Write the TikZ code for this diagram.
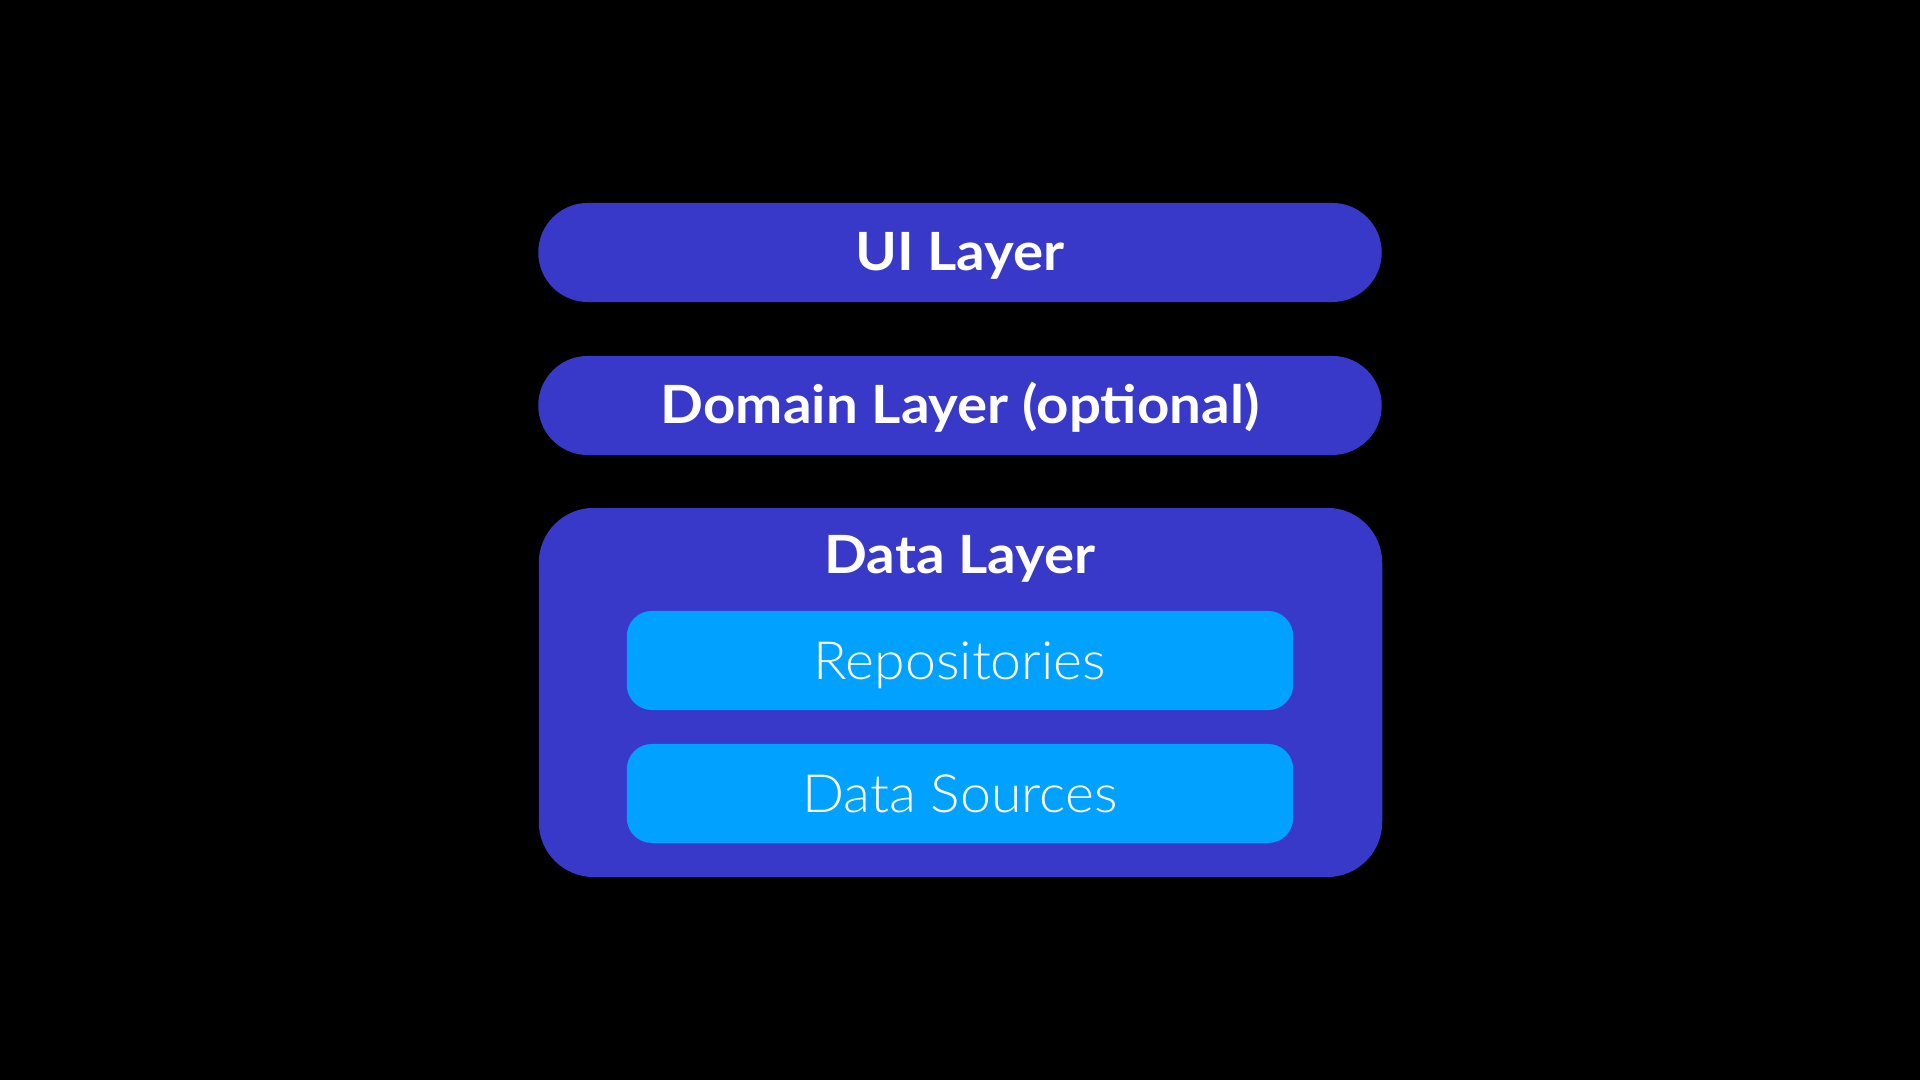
\documentclass[tikz,border=0pt]{standalone}
\usepackage{fontspec}
\setmainfont{Lato}
\newfontfamily\boldfont[FakeStretch=1.07]{Lato Bold}
\newfontfamily\lightfont[FakeStretch=1.05]{Lato Light}
\definecolor{layerblue}{HTML}{3838C9}
\definecolor{skyblue}{HTML}{00A1FF}
\begin{document}
\begin{tikzpicture}[x=0.01cm,y=0.01cm,
  pill/.style={fill=layerblue, draw=none, minimum width=8.43cm, minimum height=0.99cm, rounded corners=0.495cm, inner sep=0pt, text=white, text height=10.5pt, text depth=0pt, font=\boldfont\fontsize{15}{18}\selectfont},
  innerbox/.style={fill=skyblue, draw=none, minimum width=6.66cm, minimum height=0.99cm, rounded corners=0.25cm, inner sep=0pt, text=white, text height=10.7pt, text depth=0pt, font=\lightfont\fontsize{15}{18}\selectfont},
  titletext/.style={text=white, inner sep=0pt, anchor=base, font=\boldfont\fontsize{15}{18}\selectfont}]
\fill[black] (0,0) rectangle (1920,1080);
\useasboundingbox (0,0) rectangle (1920,1080);
\node[pill] (ui) at (960,827.5) {UI Layer};
\node[pill] (domain) at (960,674.5) {Domain Layer (optional)};
\node[fill=layerblue, draw=none, minimum width=8.43cm, minimum height=3.69cm, rounded corners=0.55cm, inner sep=0pt] (data) at (960.5,387.5) {};
\node[titletext] (datatitle) at (960,506) {Data Layer};
\node[innerbox] (repo) at (960,419.5) {Repositories};
\node[innerbox] (sources) at (960,286.5) {Data Sources};
\end{tikzpicture}
\end{document}
